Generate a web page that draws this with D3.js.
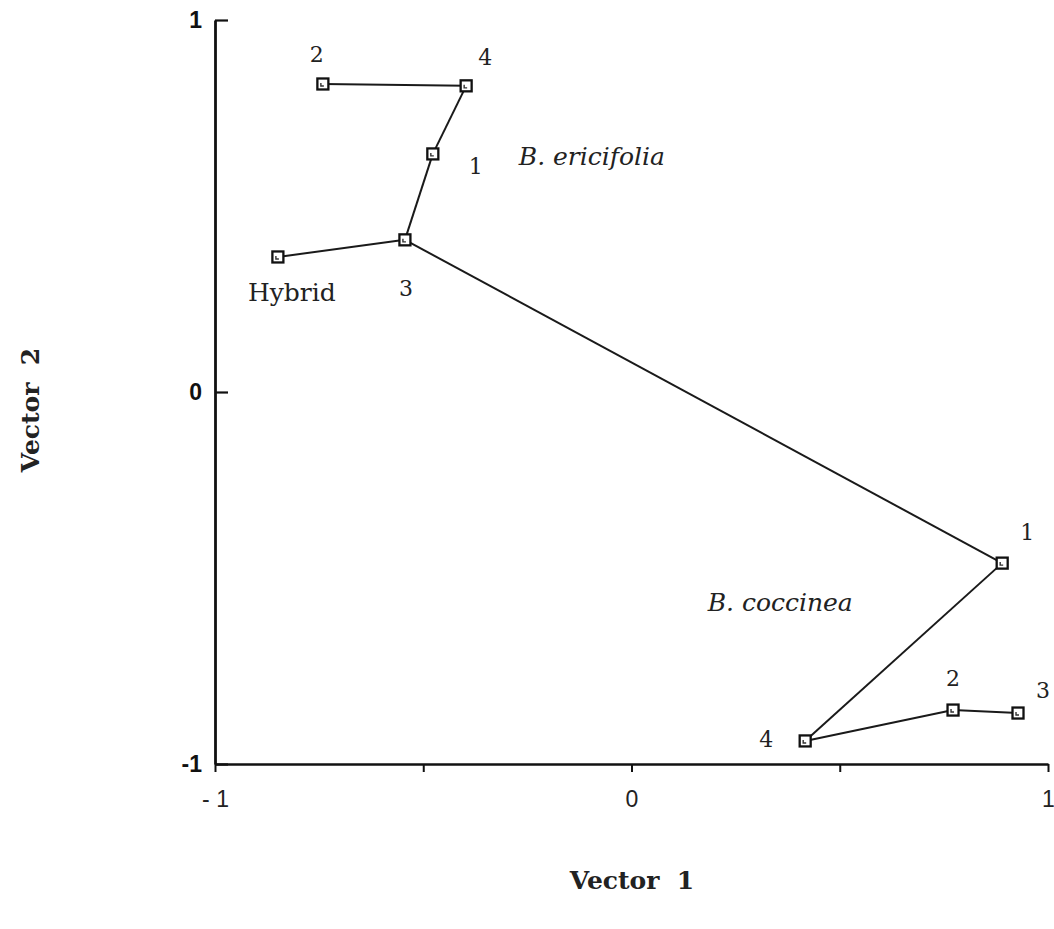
<!DOCTYPE html>
<html>
<head>
<meta charset="utf-8">
<script src="https://cdn.jsdelivr.net/npm/d3@7"></script>
<style>
  body { margin: 0; background: white; }
</style>
</head>
<body>
<div id="chart"></div>
<script>
const width = 1054;
const height = 929;

// ordination scores
const pointIds = ['E2', 'E4', 'E1', 'E3', 'H', 'C1', 'C4', 'C2', 'C3'];
const pointLabels = ['2', '4', '1', '3', 'Hybrid', '1', '4', '2', '3'];
const vector1 = [-0.741, -0.397, -0.477, -0.544, -0.849, 0.890, 0.417, 0.772, 0.928];
const vector2 = [0.828, 0.823, 0.640, 0.409, 0.363, -0.460, -0.938, -0.855, -0.863];

// connections between the populations
const links = [
    ['E2', 'E4'],
    ['E4', 'E1'],
    ['E1', 'E3'],
    ['E3', 'H'],
    ['E3', 'C1'],
    ['C1', 'C4'],
    ['C4', 'C2'],
    ['C2', 'C3'],
];

const speciesNames = ['B. ericifolia', 'B. coccinea'];
const speciesV1 = [-0.095, 0.357];
const speciesV2 = [0.632, -0.567];

const xTicks = [-1, -0.5, 0, 0.5, 1];
const xTickLabels = ['- 1', '', '0', '', '1'];
const yTicks = [1, 0, -1];
const yTickLabels = ['1', '0', '-1'];

const points = pointIds.map((id, i) => ({
    id,
    label: pointLabels[i],
    v1: vector1[i],
    v2: vector2[i],
}));
const byId = {};
points.forEach((p) => (byId[p.id] = p));

const x = d3.scaleLinear().domain([-1, 1]).range([215, 1048]);
const y = d3.scaleLinear().domain([-1, 1]).range([764, 20]);

const svg = d3
    .select('#chart')
    .append('svg')
    .attr('width', width)
    .attr('height', height)
    .style('background-color', 'white');

// axes
const xAxis = svg
    .append('g')
    .attr('transform', `translate(0, ${y(-1)})`)
    .call(
        d3
            .axisBottom(x)
            .tickValues(xTicks)
            .tickSizeInner(8)
            .tickSizeOuter(0)
            .tickPadding(19)
            .tickFormat((d, i) => xTickLabels[i])
    );
xAxis.select('.domain').attr('stroke', '#111').attr('stroke-width', 2.4);
xAxis.selectAll('.tick line').attr('stroke', '#111').attr('stroke-width', 2);
xAxis
    .selectAll('.tick text')
    .attr('fill', '#222')
    .attr('font-family', '"Liberation Sans", Arial, sans-serif')
    .attr('font-size', 23);

const yAxis = svg
    .append('g')
    .attr('transform', `translate(${x(-1)}, 0)`)
    .call(
        d3
            .axisLeft(y)
            .tickValues(yTicks)
            .tickSizeInner(-13)
            .tickSizeOuter(0)
            .tickPadding(13)
            .tickFormat((d, i) => yTickLabels[i])
    );
yAxis.select('.domain').attr('stroke', '#111').attr('stroke-width', 2.8);
yAxis.selectAll('.tick line').attr('stroke', '#111').attr('stroke-width', 2.2);
yAxis
    .selectAll('.tick text')
    .attr('fill', '#111')
    .attr('font-family', '"Liberation Sans", Arial, sans-serif')
    .attr('font-weight', 'bold')
    .attr('font-size', 23);

// axis titles
svg.append('text')
    .attr('x', 632)
    .attr('y', 889)
    .attr('text-anchor', 'middle')
    .style('font-family', '"DejaVu Serif", serif')
    .style('font-weight', 'bold')
    .style('font-size', '25px')
    .attr('fill', '#222')
    .style('white-space', 'pre')
    .text('Vector  1');

svg.append('text')
    .attr('transform', 'translate(39, 410) rotate(-90)')
    .attr('text-anchor', 'middle')
    .style('font-family', '"DejaVu Serif", serif')
    .style('font-weight', 'bold')
    .style('font-size', '25px')
    .attr('fill', '#222')
    .style('white-space', 'pre')
    .text('Vector  2');

// connecting lines
svg.append('g')
    .selectAll('line')
    .data(links)
    .enter()
    .append('line')
    .attr('x1', (d) => x(byId[d[0]].v1))
    .attr('y1', (d) => y(byId[d[0]].v2))
    .attr('x2', (d) => x(byId[d[1]].v1))
    .attr('y2', (d) => y(byId[d[1]].v2))
    .attr('stroke', '#1a1a1a')
    .attr('stroke-width', 2);

// square markers
const size = 11;
const marker = svg
    .append('g')
    .selectAll('g')
    .data(points)
    .enter()
    .append('g')
    .attr('transform', (d) => `translate(${x(d.v1)}, ${y(d.v2)})`);

marker
    .append('rect')
    .attr('x', -size / 2)
    .attr('y', -size / 2)
    .attr('width', size)
    .attr('height', size)
    .attr('fill', 'white')
    .attr('stroke', '#111')
    .attr('stroke-width', 2.3);

marker
    .append('path')
    .attr('d', 'M-2,-1 L-2,2 L1,2')
    .attr('fill', 'none')
    .attr('stroke', '#333')
    .attr('stroke-width', 1.4);

// point labels, nudged off their squares
const labelOffsets = {
    E2: [-6, -29],
    E4: [19, -28],
    E1: [43, 13],
    E3: [1, 49],
    H: [14, 36],
    C1: [25, -31],
    C4: [-39, -1],
    C2: [0, -32],
    C3: [25, -23],
};

svg.append('g')
    .selectAll('text')
    .data(points)
    .enter()
    .append('text')
    .attr('x', (d) => x(d.v1) + labelOffsets[d.id][0])
    .attr('y', (d) => y(d.v2) + labelOffsets[d.id][1])
    .attr('text-anchor', 'middle')
    .attr('dominant-baseline', 'central')
    .style('font-family', '"DejaVu Serif", serif')
    .style('font-size', (d) => (d.id === 'H' ? '25px' : '22px'))
    .attr('fill', '#222')
    .text((d) => d.label);

// species names
svg.append('g')
    .selectAll('text')
    .data(speciesNames)
    .enter()
    .append('text')
    .attr('x', (d, i) => x(speciesV1[i]))
    .attr('y', (d, i) => y(speciesV2[i]))
    .attr('text-anchor', 'middle')
    .attr('dominant-baseline', 'central')
    .style('font-family', '"DejaVu Serif", serif')
    .style('font-style', 'italic')
    .style('font-size', '25px')
    .attr('fill', '#222')
    .text((d) => d);
</script>
</body>
</html>
